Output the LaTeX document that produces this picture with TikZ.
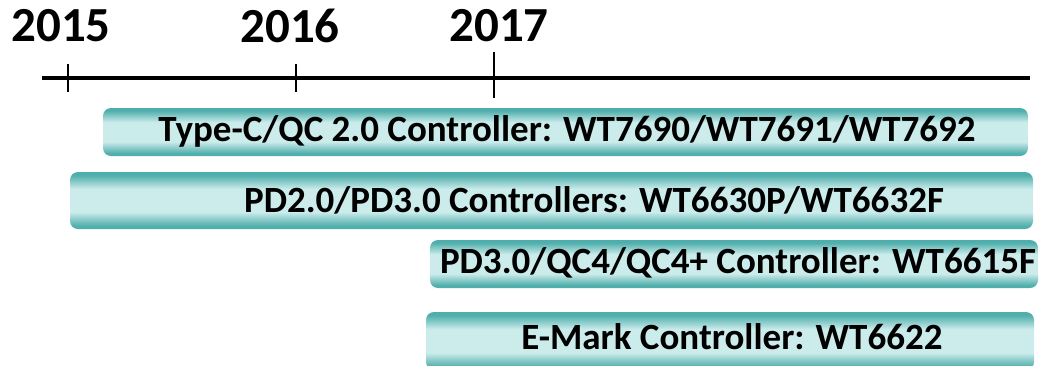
\documentclass[tikz,border=0pt]{standalone}
\usepackage{fontspec}
\setmainfont{Carlito}
\usetikzlibrary{positioning}
\definecolor{tealdark}{RGB}{30,150,146}
\definecolor{teallight}{RGB}{204,236,236}
\pgfdeclareverticalshading{barshade}{100bp}{
  color(0bp)=(tealdark); color(28bp)=(tealdark!70!teallight);
  color(40bp)=(teallight); color(60bp)=(teallight);
  color(72bp)=(tealdark!70!teallight); color(100bp)=(tealdark)}
\tikzset{
  year/.style={font=\fontsize{49}{51}\selectfont\bfseries, inner sep=0pt},
  bar/.style={rounded corners=8pt, draw=none, shading=barshade},
  bartext/.style={font=\fontsize{37}{39}\selectfont\bfseries, inner sep=0pt},
}
\begin{document}
\begin{tikzpicture}[x=1pt,y=-1pt]
  \useasboundingbox (0,0) rectangle (1044,365);
  % timeline
  \coordinate (axl) at (42,78);
  \coordinate (axr) at (1030,78);
  \draw[line width=4pt] (axl) -- (axr);
  \begin{scope}[every node/.style={year}]
    \node (y15) at (61,26) {2015};
    \node (y16) at (290,26) {2016};
    \node (y17) at (499,26) {2017};
  \end{scope}
  \coordinate (t15a) at (68,64);  \coordinate (t15b) at (68,92);
  \coordinate (t16a) at (296,64); \coordinate (t16b) at (296,92);
  \coordinate (t17a) at (494,52); \coordinate (t17b) at (494,98);
  \draw[line width=1.5pt] (t15a) -- (t15b);
  \draw[line width=1.5pt] (t16a) -- (t16b);
  \draw[line width=1.5pt] (t17a) -- (t17b);
  % bars
  \path[bar] (103,108) rectangle (1028,156);
  \path[bar] (70,172) rectangle (1033,229);
  \path[bar] (430,240) rectangle (1038,288);
  \path[bar] (426,312) rectangle (1034,370);
  \begin{scope}[every node/.style={bartext}]
    \node (typec) at (567,131) {Type-C/QC 2.0 Controller: WT7690/WT7691/WT7692};
    \node (pd) at (594,200) {PD2.0/PD3.0 Controllers: WT6630P/WT6632F};
    \node (qc) at (738,263) {PD3.0/QC4/QC4+ Controller: WT6615F};
    \node (emark) at (732,337) {E-Mark Controller: WT6622};
  \end{scope}
\end{tikzpicture}
\end{document}
